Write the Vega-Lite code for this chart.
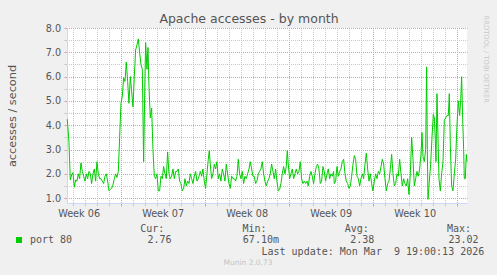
{
  "$schema": "https://vega.github.io/schema/vega-lite/v6.json",
  "width": 400,
  "height": 175,
  "autosize": {"type": "none"},
  "padding": {"left": 67, "top": 28, "right": 30, "bottom": 72},
  "background": "#f0f0f0",
  "config": {"view": {"fill": "#ffffff", "stroke": null}, "font": "DejaVu Sans"},
  "title": {"text": "Munin 2.0.73", "orient": "bottom", "anchor": "middle", "frame": "group", "dx": -19, "offset": 8, "baseline": "alphabetic", "fontSize": 7.5, "fontWeight": "normal", "color": "#c4c4c4", "font": "DejaVu Sans"},
  "data": {"values": [
    {"t": -0.442, "v": 4.25}, {"t": -0.303, "v": 3.3}, {"t": -0.192, "v": 1.75}, {"t": -0.081, "v": 1.95}, {"t": 0.031, "v": 2.05}, {"t": 0.142, "v": 1.45}, {"t": 0.253, "v": 1.75}, {"t": 0.364, "v": 1.7}, {"t": 0.475, "v": 2.0}, {"t": 0.586, "v": 1.8}, {"t": 0.697, "v": 2.45}, {"t": 0.808, "v": 2.1}, {"t": 0.919, "v": 1.9}, {"t": 1.031, "v": 1.7}, {"t": 1.142, "v": 2.0}, {"t": 1.253, "v": 1.8}, {"t": 1.364, "v": 2.1}, {"t": 1.475, "v": 2.0}, {"t": 1.586, "v": 1.6}, {"t": 1.697, "v": 2.0}, {"t": 1.808, "v": 2.2}, {"t": 1.919, "v": 1.7}, {"t": 2.031, "v": 2.5}, {"t": 2.142, "v": 2.0}, {"t": 2.253, "v": 1.8}, {"t": 2.364, "v": 1.8}, {"t": 2.475, "v": 1.7}, {"t": 2.586, "v": 1.6}, {"t": 2.697, "v": 1.9}, {"t": 2.808, "v": 2.0}, {"t": 2.919, "v": 1.7}, {"t": 3.031, "v": 1.3}, {"t": 3.142, "v": 1.35}, {"t": 3.253, "v": 1.4}, {"t": 3.364, "v": 1.55}, {"t": 3.475, "v": 1.8}, {"t": 3.586, "v": 2.0}, {"t": 3.697, "v": 1.85}, {"t": 3.808, "v": 2.1}, {"t": 3.919, "v": 3.5}, {"t": 4.031, "v": 4.9}, {"t": 4.142, "v": 5.2}, {"t": 4.253, "v": 5.95}, {"t": 4.364, "v": 5.8}, {"t": 4.475, "v": 6.6}, {"t": 4.586, "v": 5.8}, {"t": 4.697, "v": 4.9}, {"t": 4.808, "v": 6.0}, {"t": 4.919, "v": 5.4}, {"t": 5.031, "v": 4.75}, {"t": 5.142, "v": 6.0}, {"t": 5.253, "v": 7.1}, {"t": 5.364, "v": 7.3}, {"t": 5.475, "v": 7.55}, {"t": 5.586, "v": 7.0}, {"t": 5.697, "v": 6.5}, {"t": 5.808, "v": 6.3}, {"t": 5.919, "v": 2.5}, {"t": 6.031, "v": 6.0}, {"t": 6.086, "v": 7.4}, {"t": 6.197, "v": 6.3}, {"t": 6.281, "v": 7.2}, {"t": 6.364, "v": 5.6}, {"t": 6.475, "v": 4.3}, {"t": 6.586, "v": 4.7}, {"t": 6.697, "v": 3.0}, {"t": 6.808, "v": 1.9}, {"t": 6.919, "v": 1.8}, {"t": 7.031, "v": 2.0}, {"t": 7.142, "v": 1.3}, {"t": 7.253, "v": 1.3}, {"t": 7.364, "v": 1.9}, {"t": 7.475, "v": 1.8}, {"t": 7.586, "v": 2.3}, {"t": 7.697, "v": 2.0}, {"t": 7.808, "v": 1.8}, {"t": 7.919, "v": 2.9}, {"t": 8.031, "v": 2.0}, {"t": 8.142, "v": 1.8}, {"t": 8.253, "v": 1.9}, {"t": 8.364, "v": 2.2}, {"t": 8.475, "v": 1.8}, {"t": 8.586, "v": 2.1}, {"t": 8.697, "v": 2.1}, {"t": 8.808, "v": 2.2}, {"t": 8.919, "v": 1.7}, {"t": 9.031, "v": 1.6}, {"t": 9.142, "v": 1.3}, {"t": 9.253, "v": 1.4}, {"t": 9.364, "v": 1.8}, {"t": 9.475, "v": 1.5}, {"t": 9.586, "v": 1.7}, {"t": 9.697, "v": 1.6}, {"t": 9.808, "v": 2.0}, {"t": 9.919, "v": 1.8}, {"t": 10.031, "v": 1.6}, {"t": 10.142, "v": 1.9}, {"t": 10.253, "v": 2.1}, {"t": 10.364, "v": 1.7}, {"t": 10.475, "v": 1.8}, {"t": 10.586, "v": 2.0},
    {"t": 10.64, "v": 2.1}, {"t": 10.751, "v": 1.9}, {"t": 10.862, "v": 2.2}, {"t": 10.973, "v": 1.7}, {"t": 11.084, "v": 1.4}, {"t": 11.196, "v": 2.0}, {"t": 11.307, "v": 2.6}, {"t": 11.39, "v": 2.95}, {"t": 11.473, "v": 2.4}, {"t": 11.584, "v": 1.8}, {"t": 11.696, "v": 2.0}, {"t": 11.807, "v": 2.4}, {"t": 11.918, "v": 2.2}, {"t": 12.029, "v": 2.5}, {"t": 12.14, "v": 1.8}, {"t": 12.251, "v": 2.0}, {"t": 12.362, "v": 1.7}, {"t": 12.473, "v": 2.2}, {"t": 12.584, "v": 2.0}, {"t": 12.696, "v": 1.7}, {"t": 12.807, "v": 2.4}, {"t": 12.918, "v": 2.0}, {"t": 13.029, "v": 1.6}, {"t": 13.14, "v": 1.4}, {"t": 13.251, "v": 1.9}, {"t": 13.362, "v": 1.8}, {"t": 13.473, "v": 1.8}, {"t": 13.584, "v": 1.7}, {"t": 13.696, "v": 1.9}, {"t": 13.807, "v": 2.6}, {"t": 13.918, "v": 2.0}, {"t": 14.029, "v": 1.8}, {"t": 14.14, "v": 2.1}, {"t": 14.251, "v": 1.6}, {"t": 14.362, "v": 1.9}, {"t": 14.473, "v": 1.8}, {"t": 14.584, "v": 2.0}, {"t": 14.696, "v": 2.2}, {"t": 14.807, "v": 2.5}, {"t": 14.918, "v": 2.2}, {"t": 15.029, "v": 1.9}, {"t": 15.14, "v": 1.9}, {"t": 15.251, "v": 1.6}, {"t": 15.362, "v": 1.7}, {"t": 15.473, "v": 2.0}, {"t": 15.584, "v": 2.1}, {"t": 15.696, "v": 2.2}, {"t": 15.807, "v": 2.5}, {"t": 15.918, "v": 2.0}, {"t": 16.029, "v": 1.7}, {"t": 16.14, "v": 1.5}, {"t": 16.251, "v": 1.7}, {"t": 16.362, "v": 1.8}, {"t": 16.473, "v": 2.0}, {"t": 16.584, "v": 2.4}, {"t": 16.696, "v": 2.1}, {"t": 16.807, "v": 1.8}, {"t": 16.918, "v": 2.2}, {"t": 17.029, "v": 1.7}, {"t": 17.14, "v": 1.3}, {"t": 17.251, "v": 1.35}, {"t": 17.362, "v": 1.6}, {"t": 17.473, "v": 2.0}, {"t": 17.584, "v": 2.3}, {"t": 17.696, "v": 2.0}, {"t": 17.807, "v": 2.3}, {"t": 17.89, "v": 2.95}, {"t": 17.973, "v": 2.4}, {"t": 18.084, "v": 1.8}, {"t": 18.196, "v": 2.0}, {"t": 18.307, "v": 2.2}, {"t": 18.418, "v": 1.8}, {"t": 18.529, "v": 2.0}, {"t": 18.64, "v": 2.2}, {"t": 18.751, "v": 2.0}, {"t": 18.862, "v": 2.1}, {"t": 18.973, "v": 2.5}, {"t": 19.084, "v": 1.8}, {"t": 19.196, "v": 1.6}, {"t": 19.307, "v": 1.7}, {"t": 19.418, "v": 1.6}, {"t": 19.529, "v": 1.7}, {"t": 19.64, "v": 1.5}, {"t": 19.751, "v": 1.9}, {"t": 19.862, "v": 2.1}, {"t": 19.973, "v": 1.9}, {"t": 20.084, "v": 1.6}, {"t": 20.196, "v": 2.0}, {"t": 20.307, "v": 2.3}, {"t": 20.418, "v": 2.4}, {"t": 20.529, "v": 2.2}, {"t": 20.64, "v": 1.6}, {"t": 20.751, "v": 1.7}, {"t": 20.862, "v": 2.3}, {"t": 20.973, "v": 2.1}, {"t": 21.084, "v": 1.7}, {"t": 21.196, "v": 2.0}, {"t": 21.307, "v": 2.2}, {"t": 21.418, "v": 1.8}, {"t": 21.529, "v": 2.0}, {"t": 21.64, "v": 1.9}, {"t": 21.751, "v": 2.1},
    {"t": 21.81, "v": 1.6}, {"t": 21.921, "v": 1.7}, {"t": 22.032, "v": 2.3}, {"t": 22.143, "v": 1.9}, {"t": 22.254, "v": 2.1}, {"t": 22.366, "v": 2.2}, {"t": 22.477, "v": 2.5}, {"t": 22.588, "v": 2.6}, {"t": 22.699, "v": 2.0}, {"t": 22.81, "v": 1.7}, {"t": 22.921, "v": 1.6}, {"t": 23.032, "v": 1.4}, {"t": 23.143, "v": 1.5}, {"t": 23.254, "v": 1.9}, {"t": 23.366, "v": 2.4}, {"t": 23.477, "v": 2.75}, {"t": 23.588, "v": 2.6}, {"t": 23.699, "v": 1.9}, {"t": 23.81, "v": 1.8}, {"t": 23.921, "v": 1.5}, {"t": 24.032, "v": 1.8}, {"t": 24.143, "v": 2.0}, {"t": 24.254, "v": 1.8}, {"t": 24.366, "v": 2.4}, {"t": 24.477, "v": 2.85}, {"t": 24.588, "v": 2.2}, {"t": 24.699, "v": 1.7}, {"t": 24.81, "v": 2.0}, {"t": 24.921, "v": 1.6}, {"t": 25.032, "v": 1.3}, {"t": 25.143, "v": 1.7}, {"t": 25.254, "v": 2.0}, {"t": 25.366, "v": 1.8}, {"t": 25.477, "v": 2.1}, {"t": 25.588, "v": 2.0}, {"t": 25.699, "v": 2.3}, {"t": 25.81, "v": 2.6}, {"t": 25.921, "v": 2.4}, {"t": 26.032, "v": 1.8}, {"t": 26.143, "v": 1.3}, {"t": 26.254, "v": 1.6}, {"t": 26.366, "v": 1.7}, {"t": 26.477, "v": 2.2}, {"t": 26.588, "v": 2.8}, {"t": 26.699, "v": 2.0}, {"t": 26.81, "v": 1.5}, {"t": 26.921, "v": 1.6}, {"t": 27.032, "v": 2.0}, {"t": 27.143, "v": 1.9}, {"t": 27.254, "v": 2.6}, {"t": 27.366, "v": 2.0}, {"t": 27.477, "v": 1.5}, {"t": 27.588, "v": 1.8}, {"t": 27.699, "v": 1.6}, {"t": 27.81, "v": 1.5}, {"t": 27.921, "v": 1.8}, {"t": 28.032, "v": 1.15}, {"t": 28.143, "v": 2.0}, {"t": 28.254, "v": 3.5}, {"t": 28.366, "v": 2.6}, {"t": 28.477, "v": 1.5}, {"t": 28.588, "v": 1.8}, {"t": 28.699, "v": 2.1}, {"t": 28.81, "v": 1.9}, {"t": 28.921, "v": 2.2}, {"t": 29.032, "v": 2.8}, {"t": 29.116, "v": 3.7}, {"t": 29.199, "v": 2.7}, {"t": 29.31, "v": 2.5}, {"t": 29.421, "v": 3.0}, {"t": 29.504, "v": 6.4}, {"t": 29.56, "v": 3.0}, {"t": 29.616, "v": 0.95}, {"t": 29.727, "v": 1.7}, {"t": 29.838, "v": 2.4}, {"t": 29.949, "v": 3.5}, {"t": 30.06, "v": 4.45}, {"t": 30.143, "v": 4.3}, {"t": 30.227, "v": 3.4}, {"t": 30.282, "v": 2.5}, {"t": 30.366, "v": 5.3}, {"t": 30.449, "v": 3.5}, {"t": 30.532, "v": 1.8}, {"t": 30.643, "v": 1.3}, {"t": 30.754, "v": 2.0}, {"t": 30.866, "v": 2.5}, {"t": 30.977, "v": 4.2}, {"t": 31.088, "v": 4.3}, {"t": 31.199, "v": 4.4}, {"t": 31.31, "v": 4.4}, {"t": 31.393, "v": 5.3}, {"t": 31.477, "v": 3.2}, {"t": 31.588, "v": 1.5}, {"t": 31.699, "v": 1.3}, {"t": 31.81, "v": 2.0}, {"t": 31.921, "v": 2.6}, {"t": 32.032, "v": 4.0}, {"t": 32.143, "v": 5.0}, {"t": 32.254, "v": 4.4}, {"t": 32.338, "v": 5.0}, {"t": 32.421, "v": 6.0}, {"t": 32.504, "v": 4.3}, {"t": 32.588, "v": 3.0}, {"t": 32.643, "v": 1.8}, {"t": 32.727, "v": 1.8}, {"t": 32.81, "v": 2.8}, {"t": 32.866, "v": 2.5}
  ]},
  "layer": [
    {
      "mark": {"type": "line", "strokeWidth": 1},
      "encoding": {
        "x": {"field": "t", "type": "quantitative",
          "scale": {"domain": [-0.467, 32.867], "nice": false, "zero": false},
          "axis": {
            "orient": "bottom",
            "values": [0,1,2,3,4,5,6,7,8,9,10,11,12,13,14,15,16,17,18,19,20,21,22,23,24,25,26,27,28,29,30,31,32,0.5,7.5,14.5,21.5,28.5],
            "labelExpr": "datum.value % 1 != 0 ? 'Week ' + ((floor(datum.value / 7) + 6) < 10 ? '0' : '') + (floor(datum.value / 7) + 6) : ''",
            "labelFont": "DejaVu Sans", "labelFontSize": 9.7, "labelColor": "#555555",
            "labelPadding": 2.3, "labelOverlap": false, "labelFlush": false,
            "tickSize": 3,
            "tickColor": {"condition": {"test": "datum.value % 7 == 4", "value": "#e39c9c"}, "value": "#c8c8c8"},
            "tickOpacity": {"condition": {"test": "datum.value % 1 != 0", "value": 0}, "value": 1},
            "grid": true,
            "gridColor": {"condition": {"test": "datum.value % 7 == 4", "value": "#e39a9a"}, "value": "#c8c8c8"},
            "gridOpacity": {"condition": {"test": "datum.value % 1 != 0", "value": 0}, "value": 1},
            "gridDash": [1, 1],
            "gridDashOffset": 0.5,
            "domainColor": "#cfd6f8",
            "title": "Last update: Mon Mar\u00a0\u00a09 19:00:13 2026",
            "titleFont": "DejaVu Sans Mono", "titleFontSize": 10, "titleFontWeight": "normal", "titleColor": "#555555",
            "titleAlign": "left", "titleAnchor": "start", "titleBaseline": "alphabetic",
            "titleX": 194, "titleY": 51.5
          }
        },
        "y": {"field": "v", "type": "quantitative",
          "scale": {"domain": [0.8, 8.0], "nice": false, "zero": false},
          "axis": {
            "orient": "left",
            "values": [1, 1.5, 2, 2.5, 3, 3.5, 4, 4.5, 5, 5.5, 6, 6.5, 7, 7.5, 8],
            "labelExpr": "datum.value % 1 == 0 ? format(datum.value, '.1f') : ''",
            "labelFont": "DejaVu Sans", "labelFontSize": 9.7, "labelColor": "#555555",
            "labelPadding": 3.4, "labelOverlap": false, "labelFlush": false,
            "tickSize": 3,
            "tickColor": {"condition": {"test": "datum.value % 1 == 0", "value": "#e39c9c"}, "value": "#c8c8c8"},
            "grid": true,
            "gridColor": {"condition": {"test": "datum.value % 1 == 0", "value": "#e39a9a"}, "value": "#c8c8c8"},
            "gridDash": [1, 1],
            "gridDashOffset": 0.5,
            "domainColor": "#cfd6f8",
            "title": "accesses / second",
            "titleFont": "DejaVu Sans", "titleFontSize": 11.3, "titleFontWeight": "normal", "titleColor": "#555555",
            "titleAngle": 270, "titleAlign": "center", "titleBaseline": "alphabetic",
            "titleX": -52, "titleY": 87.5
          }
        },
        "color": {"datum": "port 80", "type": "nominal",
          "scale": {"range": ["#00cc00"]},
          "legend": {
            "title": null, "orient": "none", "legendX": -53, "legendY": 207, "padding": 0,
            "symbolType": "square", "symbolSize": 36, "symbolStrokeWidth": 0,
            "labelFont": "DejaVu Sans Mono", "labelFontSize": 10, "labelColor": "#555555", "labelOffset": 6,
            "encode": {"symbols": {"update": {"fill": {"value": "#00cc00"}, "stroke": {"value": "#00cc00"}, "strokeWidth": {"value": 0}, "shape": {"value": "square"}}}}
          }
        }
      }
    },
    {
      "mark": {"type": "line", "opacity": 0},
      "encoding": {
        "x": {"field": "t", "type": "quantitative",
          "scale": {"domain": [-0.467, 32.867], "nice": false, "zero": false},
          "axis": {"orient": "top", "labels": false, "ticks": false, "domain": false, "grid": false,
            "title": "Apache accesses - by month", "titleFont": "DejaVu Sans", "titleFontSize": 12.5, "titleFontWeight": "normal", "titleColor": "#555555",
            "titleX": 181.5, "titleY": -5.3, "titleAlign": "center", "titleBaseline": "alphabetic"}
        },
        "y": {"field": "v", "type": "quantitative",
          "axis": {"orient": "right", "labels": false, "ticks": false, "domain": false, "grid": false,
            "title": "RRDTOOL / TOBI OETIKER", "titleFont": "DejaVu Sans", "titleFontSize": 6.8, "titleFontWeight": "normal", "titleColor": "#c8c8c8",
            "titleAngle": 90, "titleAlign": "left", "titleBaseline": "alphabetic", "titleX": 16.5, "titleY": -13}
        }
      }
    },
    {
      "data": {"values": [{"stat": "Cur:", "val": "2.76"}, {"stat": "Min:", "val": "67.10m"}, {"stat": "Avg:", "val": "2.38"}, {"stat": "Max:", "val": "23.02"}]},
      "mark": {"type": "text", "font": "DejaVu Sans Mono", "fontSize": 10, "color": "#555555", "align": "left", "baseline": "alphabetic", "y": 203.5},
      "encoding": {
        "x": {"field": "stat", "type": "nominal", "sort": null, "scale": {"type": "point", "range": [73.3, 379.9], "padding": 0}, "axis": null},
        "text": {"field": "stat"}
      }
    },
    {
      "data": {"values": [{"stat": "Cur:", "val": "2.76"}, {"stat": "Min:", "val": "67.10m"}, {"stat": "Avg:", "val": "2.38"}, {"stat": "Max:", "val": "23.02"}]},
      "mark": {"type": "text", "font": "DejaVu Sans Mono", "fontSize": 10, "color": "#555555", "align": "center", "baseline": "alphabetic", "y": 215.3},
      "encoding": {
        "x": {"field": "stat", "type": "nominal", "sort": null, "scale": {"type": "point", "range": [92.6, 396.5], "padding": 0}, "axis": null},
        "text": {"field": "val"}
      }
    }
  ],
  "resolve": {"axis": {"x": "independent", "y": "independent"}, "scale": {"x": "independent"}}
}
